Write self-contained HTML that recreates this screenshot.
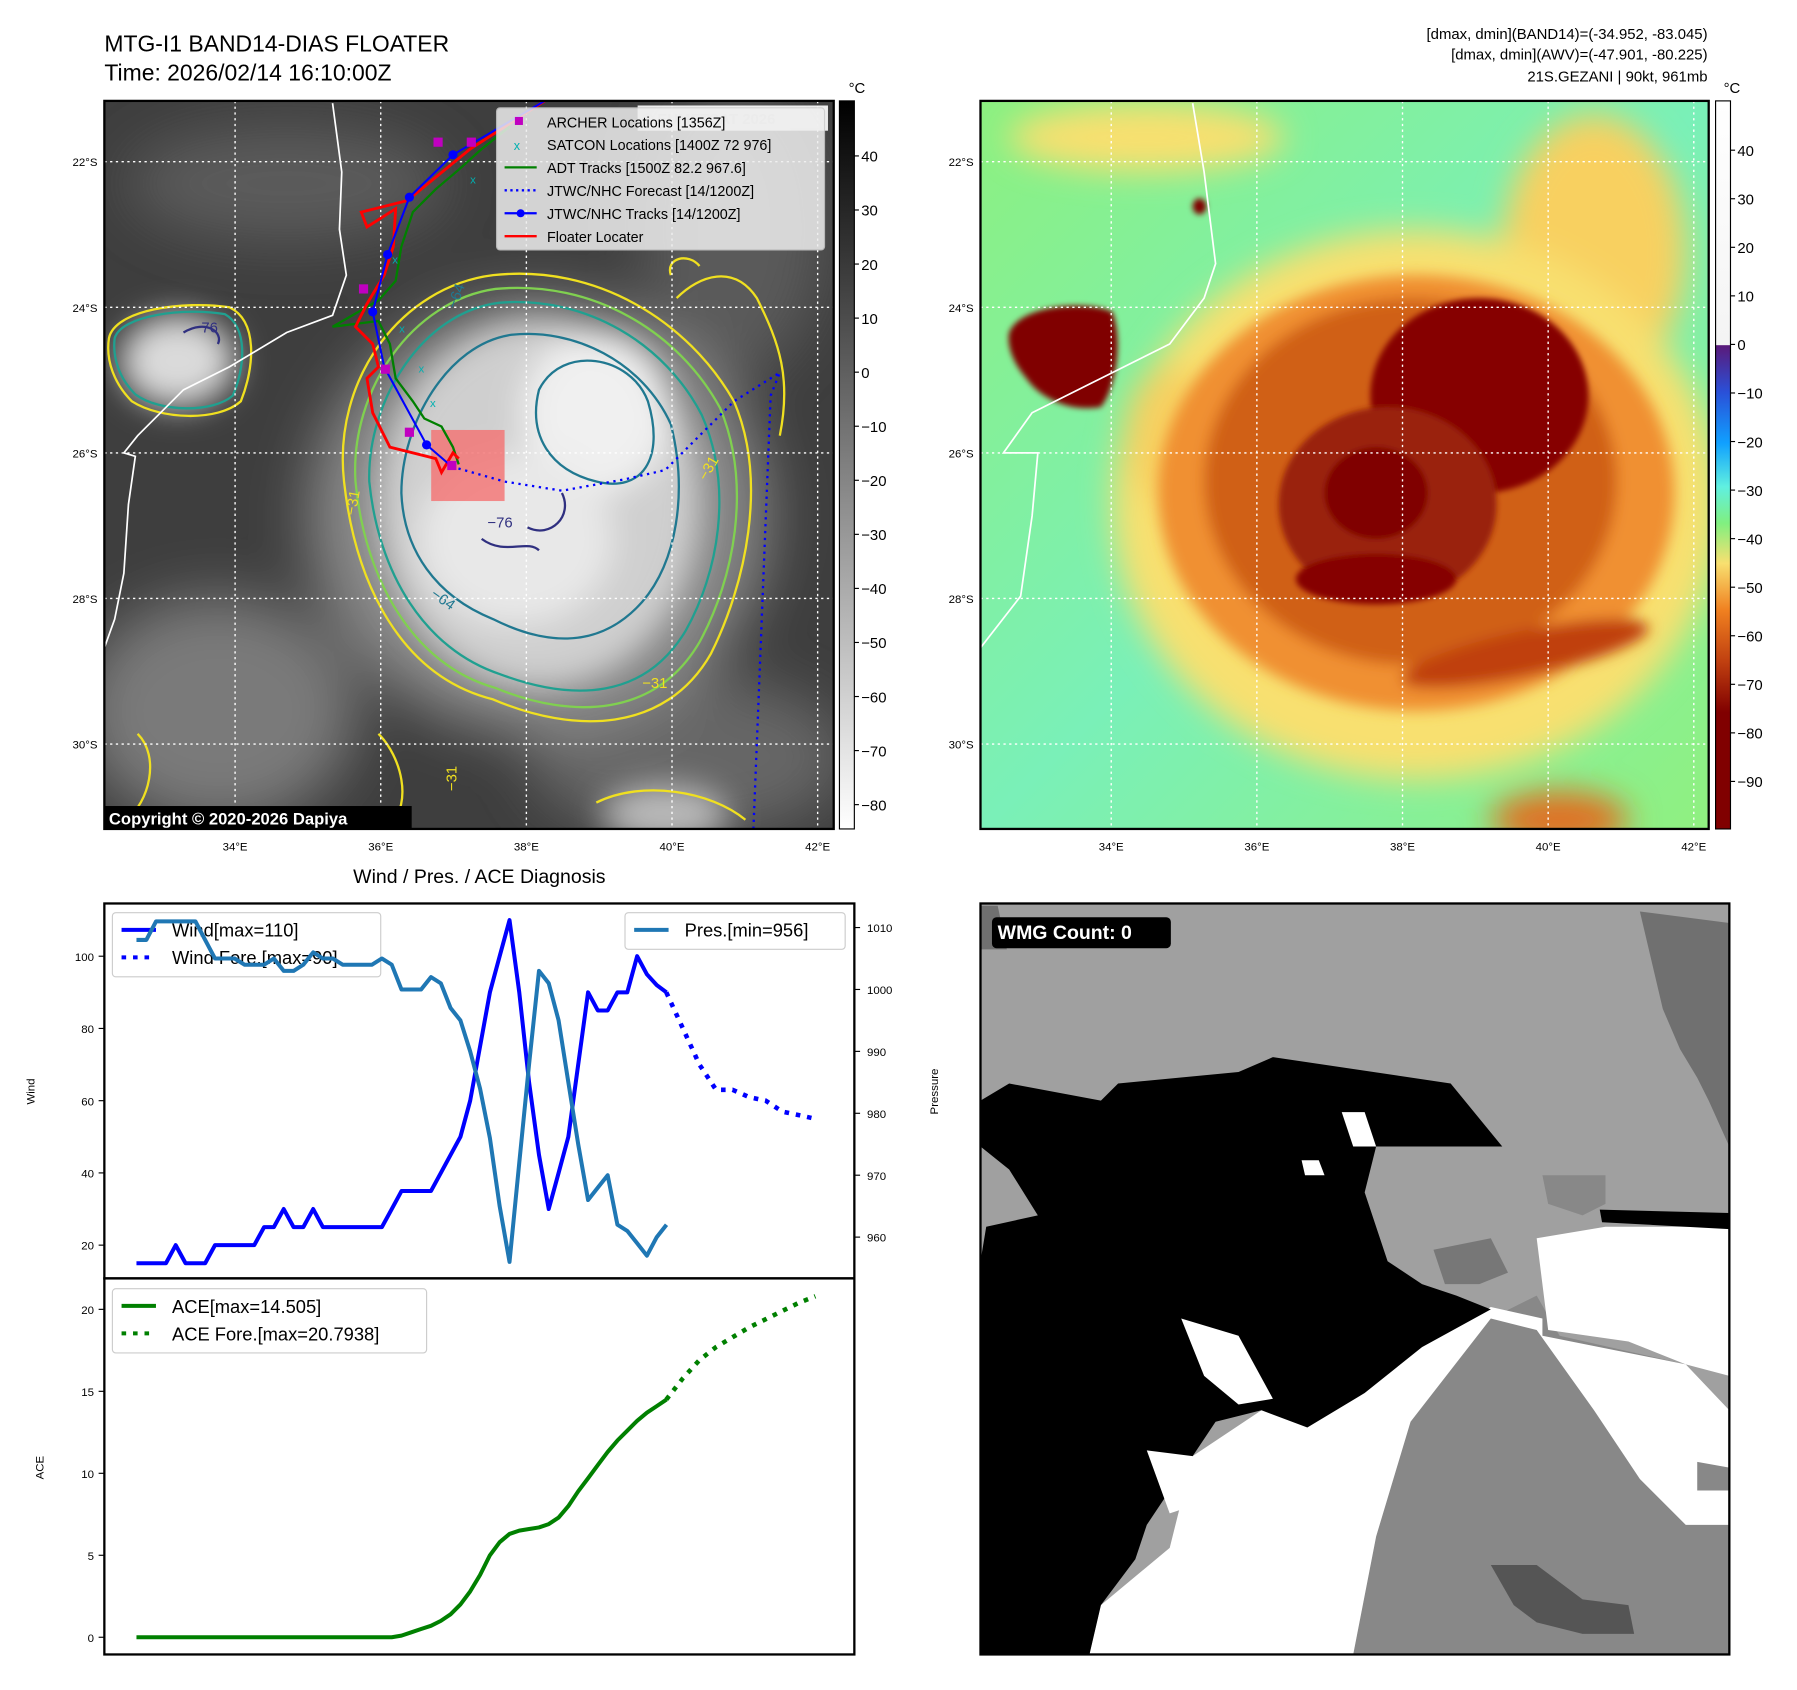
<!DOCTYPE html>
<html><head><meta charset="utf-8"><style>
html,body{margin:0;padding:0;background:#fff;}
svg{display:block;font-family:"Liberation Sans","DejaVu Sans",sans-serif;}
</style></head><body>
<svg id="root" width="1797" height="1690" viewBox="0 0 1567 1474" preserveAspectRatio="none" xmlns="http://www.w3.org/2000/svg">
<defs>
<filter id="b6" x="-30%" y="-30%" width="160%" height="160%"><feGaussianBlur stdDeviation="6"/></filter>
<filter id="b14" x="-30%" y="-30%" width="160%" height="160%"><feGaussianBlur stdDeviation="14"/></filter>
<filter id="b25" x="-40%" y="-40%" width="180%" height="180%"><feGaussianBlur stdDeviation="25"/></filter>
<filter id="b3"><feGaussianBlur stdDeviation="2.5"/></filter>
<clipPath id="cl"><rect x="91" y="88" width="636" height="635"/></clipPath>
<clipPath id="cr"><rect x="855" y="88" width="635" height="635"/></clipPath>
<clipPath id="cw"><rect x="855" y="788" width="653" height="655"/></clipPath>
<linearGradient id="gbl" x1="0" y1="1" x2="0" y2="0"><stop offset="0" stop-color="#fff"/><stop offset="1" stop-color="#000"/></linearGradient>
<linearGradient id="gbr" x1="0" y1="0" x2="0" y2="1">
<stop offset="0" stop-color="#ffffff"/><stop offset="0.335" stop-color="#f4f4f4"/>
<stop offset="0.336" stop-color="#5a1a7a"/><stop offset="0.40" stop-color="#2a50d8"/>
<stop offset="0.47" stop-color="#10a0ff"/><stop offset="0.53" stop-color="#60f0e0"/>
<stop offset="0.58" stop-color="#80f080"/><stop offset="0.635" stop-color="#f8e070"/>
<stop offset="0.70" stop-color="#f08020"/><stop offset="0.77" stop-color="#c04010"/>
<stop offset="0.84" stop-color="#800000"/><stop offset="1" stop-color="#800000"/></linearGradient>
<linearGradient id="gsea" x1="0" y1="0" x2="1" y2="1"><stop offset="0" stop-color="#8cf080"/><stop offset="0.5" stop-color="#7af0b8"/><stop offset="1" stop-color="#90f080"/></linearGradient>
</defs>

<text x="91" y="45" font-size="20">MTG-I1 BAND14-DIAS FLOATER</text>
<text x="91" y="70" font-size="20">Time: 2026/02/14 16:10:00Z</text>
<g font-size="13" text-anchor="end">
<text x="1489" y="34">[dmax, dmin](BAND14)=(-34.952, -83.045)</text>
<text x="1489" y="52">[dmax, dmin](AWV)=(-47.901, -80.225)</text>
<text x="1489" y="71">21S.GEZANI | 90kt, 961mb</text>
</g>

<!-- LEFT MAP -->
<g clip-path="url(#cl)">
<rect x="91" y="88" width="636" height="635" fill="#3e3e3e"/>
<g filter="url(#b25)">
<ellipse cx="250" cy="160" rx="140" ry="50" fill="#5c5c5c"/>
<ellipse cx="640" cy="200" rx="80" ry="130" fill="#5a5a5a"/>
<ellipse cx="190" cy="620" rx="120" ry="100" fill="#7a7a7a"/>
<ellipse cx="600" cy="660" rx="140" ry="70" fill="#666"/>
<ellipse cx="470" cy="450" rx="200" ry="190" fill="#8a8a8a"/>
</g>
<g filter="url(#b14)">
<ellipse cx="470" cy="440" rx="140" ry="160" fill="#cfcfcf"/>
<ellipse cx="520" cy="360" rx="65" ry="70" fill="#f0f0f0"/>
<ellipse cx="450" cy="470" rx="85" ry="75" fill="#e8e8e8"/>
<ellipse cx="155" cy="315" rx="50" ry="40" fill="#dadada"/>
<ellipse cx="580" cy="710" rx="55" ry="25" fill="#bbb"/>
</g>
<g fill="none" stroke-width="2">
<path d="M300,420 C290,330 350,250 430,240 C520,230 600,280 640,350 C670,420 650,510 620,570 C580,640 500,640 430,610 C350,590 310,510 300,420Z" stroke="#f0e020"/>
<path d="M310,420 C305,340 360,262 432,252 C518,244 592,290 628,356 C656,424 640,505 610,560 C572,625 500,628 432,600 C360,580 318,505 310,420Z" stroke="#80d050"/>
<path d="M322,420 C320,350 368,272 436,264 C512,258 580,300 612,362 C640,426 626,500 598,550 C562,610 500,612 436,588 C370,566 330,500 322,420Z" stroke="#20a090"/>
<path d="M350,430 C350,370 390,300 446,292 C500,286 560,315 585,370 C600,430 590,490 560,525 C520,570 470,560 430,540 C380,520 352,480 350,430Z" stroke="#207890"/>
<path d="M470,340 C490,300 550,310 565,350 C580,400 560,430 520,420 C480,410 460,380 470,340Z" stroke="#207890"/>
<path d="M95,295 C100,270 160,262 200,268 C225,280 222,320 210,350 C190,368 140,366 115,350 C100,335 92,315 95,295Z" stroke="#f0e020"/>
<path d="M100,295 C106,275 160,268 196,274 C216,285 214,320 203,345 C186,360 140,360 118,344 C104,330 98,312 100,295Z" stroke="#20a090"/>
<path d="M160,290 C180,278 195,290 190,300" stroke="#303080"/>
<path d="M120,640 C140,660 130,700 110,715 M330,640 C350,660 360,700 340,720 M520,700 C560,680 620,690 650,715" stroke="#f0e020"/>
<path d="M590,260 C610,240 640,230 660,260 C680,300 690,330 680,380 M585,240 C580,225 600,220 610,232" stroke="#f0e020"/>
<path d="M490,430 C500,450 480,470 460,460 M420,470 C440,485 460,470 470,480" stroke="#303080"/>
</g>
<g font-size="13">
<text x="425" y="460" fill="#303080">−76</text>
<text x="168" y="290" fill="#303080">−76</text>
<text x="398" y="270" fill="#207890" transform="rotate(-70 398 270)">−64</text>
<text x="375" y="520" fill="#207890" transform="rotate(35 375 520)">−64</text>
<text x="616" y="420" fill="#f0e020" transform="rotate(-60 616 420)">−31</text>
<text x="310" y="450" fill="#f0e020" transform="rotate(-80 310 450)">−31</text>
<text x="560" y="600" fill="#f0e020">−31</text>
<text x="398" y="690" fill="#f0e020" transform="rotate(-90 398 690)">−31</text>
</g>
<path d="M290,90 L298,150 L296,200 L302,240 L290,275 L250,290 L200,320 L160,340 L120,380 L108,395 L118,398 L112,440 L108,500 L100,540 L91,565" fill="none" stroke="#fff" stroke-width="1.5"/>
<g stroke="#fff" stroke-width="1.2" stroke-dasharray="2,3">
<line x1="205" y1="88" x2="205" y2="723"/><line x1="332" y1="88" x2="332" y2="723"/><line x1="459" y1="88" x2="459" y2="723"/><line x1="586" y1="88" x2="586" y2="723"/><line x1="713" y1="88" x2="713" y2="723"/>
<line x1="91" y1="141" x2="727" y2="141"/><line x1="91" y1="268" x2="727" y2="268"/><line x1="91" y1="395" x2="727" y2="395"/><line x1="91" y1="522" x2="727" y2="522"/><line x1="91" y1="649" x2="727" y2="649"/>
</g>
<rect x="376" y="375" width="64" height="62" fill="#f47070" opacity="0.8"/>
<polyline points="394,407 440,420 490,428 545,418 580,410 600,390 640,350 680,325 672,345 657,723" fill="none" stroke="#0000ff" stroke-width="2" stroke-dasharray="2,4"/>
<polyline points="445,110 420,130 400,148 380,165 360,185 350,215 345,245 330,262 290,285 330,280 340,300 345,330 360,350 370,365 385,372 395,390 400,405" fill="none" stroke="#008000" stroke-width="2"/>
<polyline points="475,88 410,130 355,175 315,185 320,198 345,182 343,215 335,240 320,265 310,285 325,300 330,320 320,330 325,360 340,390 380,400 385,412 395,395 400,400" fill="none" stroke="#ff0000" stroke-width="2.5"/>
<polyline points="475,88 395,135 357,172 338,222 325,272 335,320 372,388 394,407" fill="none" stroke="#0000ff" stroke-width="1.8"/>
<g fill="#0000ff"><circle cx="395" cy="135" r="4"/><circle cx="357" cy="172" r="4"/><circle cx="338" cy="222" r="4"/><circle cx="325" cy="272" r="4"/><circle cx="372" cy="388" r="4"/></g>
<g fill="#c000c0"><rect x="378" y="120" width="8" height="8"/><rect x="407" y="120" width="8" height="8"/><rect x="313" y="248" width="8" height="8"/><rect x="353" y="373" width="8" height="8"/><rect x="332" y="318" width="8" height="8"/><rect x="390" y="402" width="8" height="8"/></g>
<g fill="#00b0b0" font-size="10"><text x="410" y="160">x</text><text x="342" y="230">x</text><text x="348" y="290">x</text><text x="365" y="325">x</text><text x="375" y="355">x</text></g>
<g>
<rect x="556" y="92" width="166" height="22" fill="#fff" opacity="0.9"/>
<text x="560" y="108" font-size="13" font-weight="bold" fill="#ddd">© EUMETSAT 2026</text>
<rect x="433" y="94" width="286" height="124" rx="3" fill="#eee" opacity="0.85" stroke="#ccc"/>
<g font-size="12.5" fill="#000">
<rect x="449" y="102" width="7" height="7" fill="#c000c0"/><text x="477" y="111">ARCHER Locations [1356Z]</text>
<text x="448" y="131" fill="#00b0b0" font-size="11">x</text><text x="477" y="131">SATCON Locations [1400Z 72 976]</text>
<line x1="440" y1="146" x2="468" y2="146" stroke="#008000" stroke-width="2"/><text x="477" y="151">ADT Tracks [1500Z 82.2 967.6]</text>
<line x1="440" y1="166" x2="468" y2="166" stroke="#0000ff" stroke-width="2" stroke-dasharray="2,3"/><text x="477" y="171">JTWC/NHC Forecast [14/1200Z]</text>
<line x1="440" y1="186" x2="468" y2="186" stroke="#0000ff" stroke-width="2"/><circle cx="454" cy="186" r="3.5" fill="#0000ff"/><text x="477" y="191">JTWC/NHC Tracks [14/1200Z]</text>
<line x1="440" y1="206" x2="468" y2="206" stroke="#ff0000" stroke-width="2"/><text x="477" y="211">Floater Locater</text>
</g></g>
<rect x="91" y="703" width="268" height="21" fill="#000"/>
<text x="95" y="719" font-size="14.5" font-weight="bold" fill="#fff">Copyright © 2020-2026 Dapiya</text>
</g>
<rect x="91" y="88" width="636" height="635" fill="none" stroke="#000" stroke-width="2"/>

<g>
<rect x="732" y="88" width="13" height="635" fill="url(#gbl)" stroke="#000" stroke-width="1"/>
<text x="740" y="81" font-size="13">°C</text>
<g font-size="13" id="lcb"></g>
</g>

<!-- RIGHT MAP -->
<g clip-path="url(#cr)">
<rect x="855" y="88" width="635" height="635" fill="url(#gsea)"/>
<g filter="url(#b14)">
<ellipse cx="1000" cy="120" rx="120" ry="30" fill="#f8e070"/>
<ellipse cx="1390" cy="220" rx="80" ry="120" fill="#f8d060"/>
<ellipse cx="1235" cy="440" rx="265" ry="240" fill="#f8e070"/>
<ellipse cx="1020" cy="380" rx="40" ry="60" fill="#f8d060"/>
<ellipse cx="1360" cy="715" rx="60" ry="25" fill="#e07020"/>
</g>
<g filter="url(#b6)">
<ellipse cx="1235" cy="430" rx="225" ry="190" fill="#f09030"/>
<ellipse cx="1230" cy="420" rx="180" ry="160" fill="#d06018"/>
<ellipse cx="1330" cy="570" rx="110" ry="20" fill="#c04010" transform="rotate(-12 1330 570)"/>
</g>
<g filter="url(#b3)">
<ellipse cx="1290" cy="345" rx="95" ry="85" fill="#860400"/>
<ellipse cx="1210" cy="440" rx="95" ry="85" fill="#9a2008"/>
<ellipse cx="1200" cy="430" rx="45" ry="40" fill="#800000"/>
<ellipse cx="1200" cy="505" rx="70" ry="22" fill="#860400"/>
<path d="M880,290 C890,265 950,262 970,272 C980,300 972,340 960,355 C930,360 905,345 895,330 C882,315 878,300 880,290Z" fill="#800000"/>
<ellipse cx="1046" cy="180" rx="6" ry="7" fill="#800000"/>
</g>
<path d="M1040,90 L1050,150 L1060,230 L1050,260 L1020,300 L960,330 L900,360 L875,395 L905,395 L900,450 L890,520 L855,565" fill="none" stroke="#fff" stroke-width="1.5"/>
<g stroke="#fff" stroke-width="1.2" stroke-dasharray="2,3">
<line x1="969" y1="88" x2="969" y2="723"/><line x1="1096" y1="88" x2="1096" y2="723"/><line x1="1223" y1="88" x2="1223" y2="723"/><line x1="1350" y1="88" x2="1350" y2="723"/><line x1="1477" y1="88" x2="1477" y2="723"/>
<line x1="855" y1="141" x2="1490" y2="141"/><line x1="855" y1="268" x2="1490" y2="268"/><line x1="855" y1="395" x2="1490" y2="395"/><line x1="855" y1="522" x2="1490" y2="522"/><line x1="855" y1="649" x2="1490" y2="649"/>
</g>
</g>
<rect x="855" y="88" width="635" height="635" fill="none" stroke="#000" stroke-width="2"/>
<g>
<rect x="1496" y="88" width="13" height="635" fill="url(#gbr)" stroke="#000" stroke-width="1"/>
<text x="1503" y="81" font-size="13">°C</text>
<g font-size="13" id="rcb"></g>
</g>

<g font-size="10" text-anchor="end">
<text x="85" y="145">22°S</text><text x="85" y="272">24°S</text><text x="85" y="399">26°S</text><text x="85" y="526">28°S</text><text x="85" y="653">30°S</text>
<text x="849" y="145">22°S</text><text x="849" y="272">24°S</text><text x="849" y="399">26°S</text><text x="849" y="526">28°S</text><text x="849" y="653">30°S</text>
</g>
<g font-size="10" text-anchor="middle">
<text x="205" y="742">34°E</text><text x="332" y="742">36°E</text><text x="459" y="742">38°E</text><text x="586" y="742">40°E</text><text x="713" y="742">42°E</text>
<text x="969" y="742">34°E</text><text x="1096" y="742">36°E</text><text x="1223" y="742">38°E</text><text x="1350" y="742">40°E</text><text x="1477" y="742">42°E</text>
</g>

<!-- WMG panel -->
<g clip-path="url(#cw)">
<rect x="855" y="788" width="653" height="655" fill="#a0a0a0"/>
<polygon points="1430,795 1508,805 1508,1000 1490,960 1480,940 1465,915 1450,880" fill="#707070"/>
<polygon points="855,790 870,790 878,828 855,828" fill="#707070"/>
<polygon points="1180,1443 1200,1340 1230,1240 1300,1150 1340,1130 1360,1165 1470,1190 1508,1230 1508,1443" fill="#888"/>
<polygon points="1040,1270 1100,1230 1170,1210 1230,1180 1300,1140 1345,1150 1345,1165 1470,1190 1508,1230 1508,1280 1480,1275 1480,1300 1508,1300 1508,1330 1470,1330 1430,1290 1390,1230 1340,1160 1300,1150 1230,1240 1200,1340 1180,1443 950,1443 960,1400 1020,1350" fill="#fff"/>
<polygon points="1340,1080 1400,1070 1508,1070 1508,1200 1470,1190 1420,1170 1350,1160" fill="#fff"/>
<polygon points="880,945 960,960 975,945 1080,935 1110,922 1265,945 1310,1000 1200,1000 1190,1040 1210,1100 1240,1120 1270,1130 1300,1142 1240,1175 1190,1215 1140,1245 1100,1230 1060,1240 1040,1270 1020,1300 1000,1330 990,1360 960,1400 950,1443 855,1443 855,1100 860,1070 905,1060 880,1020 855,1000 855,960" fill="#000"/>
<polygon points="1030,1150 1080,1165 1110,1220 1080,1225 1050,1200" fill="#fff"/>
<polygon points="1000,1265 1040,1270 1050,1310 1020,1320" fill="#fff"/>
<polygon points="1170,970 1190,970 1200,1000 1180,1000" fill="#fff"/>
<polygon points="1135,1012 1150,1012 1155,1025 1138,1025" fill="#fff"/>
<polygon points="1395,1055 1508,1058 1508,1072 1397,1066" fill="#000"/>
<polygon points="1300,1365 1340,1365 1380,1395 1420,1400 1425,1425 1380,1425 1340,1415 1320,1400" fill="#555"/>
<polygon points="1345,1025 1400,1025 1400,1050 1380,1060 1350,1050" fill="#888"/>
<polygon points="1250,1090 1300,1080 1315,1110 1290,1120 1260,1120" fill="#777"/>
</g>
<rect x="855" y="788" width="653" height="655" fill="none" stroke="#000" stroke-width="2"/>
<rect x="865" y="800" width="156" height="27" rx="4" fill="#000"/>
<text x="870" y="819" font-size="17" font-weight="bold" fill="#fff">WMG Count: 0</text>

<text x="418" y="770" font-size="17" text-anchor="middle">Wind / Pres. / ACE Diagnosis</text>
<g id="charts"></g>
<rect x="91" y="788" width="654" height="327" fill="none" stroke="#000" stroke-width="2"/>
<rect x="91" y="1115" width="654" height="328" fill="none" stroke="#000" stroke-width="2"/>
</svg>
<script>
const windVals=[15,15,15,15,20,15,15,15,20,20,20,20,20,25,25,30,25,25,30,25,25,25,25,25,25,25,30,35,35,35,35,40,45,50,60,75,90,100,110,90,65,45,30,40,50,70,90,85,85,90,90,100,95,92,90];
const presVals=[1008,1008,1011,1011,1011,1011,1011,1008,1005,1005,1005,1004,1004,1004,1005,1003,1003,1004,1006,1005,1005,1004,1004,1004,1004,1005,1004,1000,1000,1000,1002,1001,997,995,990,984,976,965,956,972,988,1003,1001,995,985,975,966,968,970,962,961,959,957,960,962];
const windFore=[90,80,70,63,63,61,60,57,56,55];
const aceVals=[0,0,0,0,0,0,0,0,0,0,0,0,0,0,0,0,0,0,0,0,0,0,0,0,0,0,0,0.1,0.3,0.5,0.7,1.0,1.4,2.0,2.8,3.8,5.0,5.8,6.3,6.5,6.6,6.7,6.9,7.3,8.0,8.9,9.7,10.5,11.3,12.0,12.6,13.2,13.7,14.1,14.5];
const aceFore=[14.5,15.8,16.9,17.7,18.3,18.9,19.4,19.9,20.4,20.8];
const windTicks=[20,40,60,80,100];
const presTicks=[960,970,980,990,1000,1010];
const aceTicks=[0,5,10,15,20];
const lcbTicks=[40,30,20,10,0,-10,-20,-30,-40,-50,-60,-70,-80];
const rcbTicks=[40,30,20,10,0,-10,-20,-30,-40,-50,-60,-70,-80,-90];

const NS='http://www.w3.org/2000/svg';
function mk(tag,attrs,parent){const e=document.createElementNS(NS,tag);for(const k in attrs)e.setAttribute(k,attrs[k]);parent.appendChild(e);return e;}
const xObs=i=>119+8.56*i;
const xFore=i=>581+14.45*i;
const yWind=v=>1086-(v-20)*3.15;
const yPres=v=>1079-(v-960)*5.4;
const yAce=v=>1428-v*14.3;
const yL=v=>136+(40-v)*4.715;
const yR=v=>131+(40-v)*4.235;
const g=document.getElementById('charts');

function line(vals,xf,yf,attrs,name){
  const pts=vals.map((v,i)=>xf(i).toFixed(1)+','+yf(v).toFixed(1)).join(' ');
  const p=mk('polyline',Object.assign({points:pts,fill:'none','stroke-linejoin':'round'},attrs),g);
  
  
}
function legend(x,y,w,h,items,name){
  const lg=mk('g',{},g);
  
  
  mk('rect',{x,y,width:w,height:h,rx:3,fill:'#fff','fill-opacity':0.8,stroke:'#ccc'},lg);
  items.forEach((it,i)=>{const yy=y+15+i*24;
    mk('line',{x1:x+8,x2:x+38,y1:yy,y2:yy,stroke:it[1],'stroke-width':3.5,'stroke-dasharray':it[2]?'4,6':'none'},lg);
    const t=mk('text',{x:x+52,y:yy+6,'font-size':16},lg);t.textContent=it[0];});
}
line(windVals,xObs,yWind,{stroke:'#0000ff','stroke-width':3.5},'wind-line');
line(windFore,xFore,yWind,{stroke:'#0000ff','stroke-width':4,'stroke-dasharray':'4,6'},'wind-forecast-line');
legend(98,796,234,56,[['Wind[max=110]','#0000ff',0],['Wind Fore.[max=90]','#0000ff',1]],'wind-legend');
line(presVals,xObs,yPres,{stroke:'#1f77b4','stroke-width':3.5},'pressure-line');
legend(545,796,192,32,[['Pres.[min=956]','#1f77b4',0]],'pressure-legend');
line(aceVals,xObs,yAce,{stroke:'#008000','stroke-width':3.5},'ace-line');
line(aceFore,xFore,yAce,{stroke:'#008000','stroke-width':4,'stroke-dasharray':'4,6'},'ace-forecast-line');
legend(98,1124,274,56,[['ACE[max=14.505]','#008000',0],['ACE Fore.[max=20.7938]','#008000',1]],'ace-legend');

windTicks.forEach(v=>{const y=yWind(v);
  mk('line',{x1:86,x2:91,y1:y,y2:y,stroke:'#000'},g);
  const t=mk('text',{x:82,y:y+4,'font-size':10,'text-anchor':'end'},g);t.textContent=v;
  
  });
presTicks.forEach(v=>{const y=yPres(v);
  mk('line',{x1:745,x2:750,y1:y,y2:y,stroke:'#000'},g);
  const t=mk('text',{x:756,y:y+4,'font-size':10},g);t.textContent=v;
  
  });
aceTicks.forEach(v=>{const y=yAce(v);
  mk('line',{x1:86,x2:91,y1:y,y2:y,stroke:'#000'},g);
  const t=mk('text',{x:82,y:y+4,'font-size':10,'text-anchor':'end'},g);t.textContent=v;
  
  });
[['Wind',30,952],['ACE',38,1280]].forEach(a=>{const t=mk('text',{x:a[1],y:a[2],'font-size':10,'text-anchor':'middle',transform:`rotate(-90 ${a[1]} ${a[2]})`},g);t.textContent=a[0];
  
  });
{const t=mk('text',{x:818,y:952,'font-size':10,'text-anchor':'middle',transform:'rotate(-90 818 952)'},g);t.textContent='Pressure';
  
  }

const lcb=document.getElementById('lcb');
lcbTicks.forEach(v=>{const y=yL(v);mk('line',{x1:745,x2:749,y1:y,y2:y,stroke:'#000'},lcb);
  const t=mk('text',{x:751,y:y+5},lcb);t.textContent=(v<0?'−':'')+Math.abs(v);
  
  });
const rcb=document.getElementById('rcb');
rcbTicks.forEach(v=>{const y=yR(v);mk('line',{x1:1509,x2:1513,y1:y,y2:y,stroke:'#000'},rcb);
  const t=mk('text',{x:1515,y:y+5},rcb);t.textContent=(v<0?'−':'')+Math.abs(v);
  
  });
</script>
</body></html>
